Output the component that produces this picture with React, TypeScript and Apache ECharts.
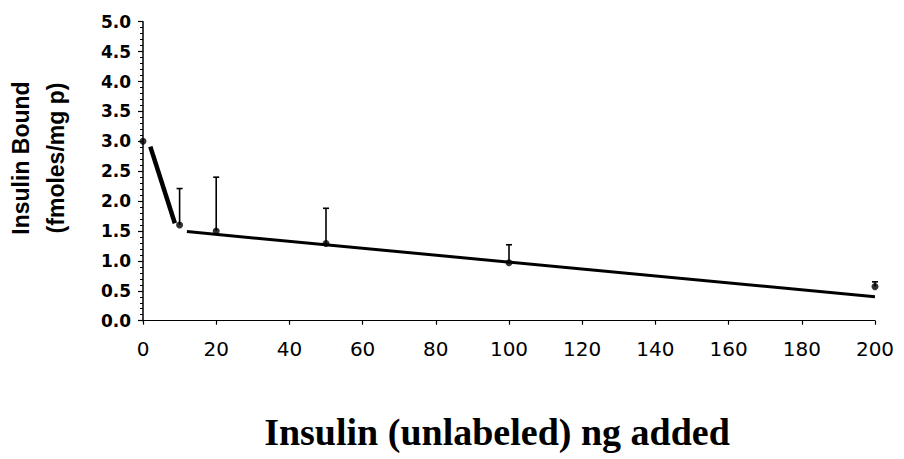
import React, { useEffect, useRef } from "react";
import * as echarts from "echarts";

// Measured points (ng unlabeled insulin added vs. insulin bound)
const doseX = [0, 10, 20, 50, 100, 200];
const boundY = [3.0, 1.6, 1.5, 1.29, 0.97, 0.57];
const errorTop = [3.0, 2.21, 2.4, 1.88, 1.27, 0.65];

// Drawn trend segments
const seg1X = [2, 8.7];
const seg1Y = [2.91, 1.63];
const seg2X = [12, 200];
const seg2Y = [1.49, 0.4];

const xTicks = [0, 20, 40, 60, 80, 100, 120, 140, 160, 180, 200];
const yTicks = [0, 0.5, 1, 1.5, 2, 2.5, 3, 3.5, 4, 4.5, 5];

export default function App() {
  const ref = useRef<HTMLDivElement>(null);
  useEffect(() => {
    document.body.style.margin = "0";
    if (!ref.current) return;
    const chart = echarts.init(ref.current, null, { renderer: "svg" });
    chart.setOption({
      animation: false,
      backgroundColor: "#ffffff",
      grid: { left: 143, right: 29, top: 21.7, bottom: 138.3, containLabel: false },
      xAxis: {
        type: "value",
        min: xTicks[0],
        max: xTicks[xTicks.length - 1],
        interval: 20,
        axisLine: { show: true, lineStyle: { color: "#000", width: 1.2 } },
        axisTick: { show: true, inside: false, length: 4, lineStyle: { color: "#000", width: 1.2 } },
        axisLabel: {
          color: "#000",
          fontSize: 20,
          fontFamily: "DejaVu Sans, sans-serif",
          margin: 18,
        },
        splitLine: { show: false },
      },
      yAxis: {
        type: "value",
        min: yTicks[0],
        max: yTicks[yTicks.length - 1],
        interval: 0.5,
        axisLine: { show: true, lineStyle: { color: "#000", width: 1.5 } },
        axisTick: { show: true, inside: false, length: 5, lineStyle: { color: "#000", width: 1.2 } },
        minorTick: { show: true, splitNumber: 5, length: 3, lineStyle: { color: "#000", width: 1 } },
        axisLabel: {
          color: "#000",
          fontSize: 17,
          fontWeight: "bold",
          fontFamily: "DejaVu Sans, sans-serif",
          margin: 12,
          formatter: (v: number) => v.toFixed(1),
        },
        splitLine: { show: false },
      },
      graphic: [
        {
          type: "text",
          x: 38,
          y: 158,
          rotation: Math.PI / 2,
          style: {
            text: "Insulin Bound\n(fmoles/mg p)",
            font: "bold 23px Liberation Sans, Arial, sans-serif",
            fill: "#000",
            textAlign: "center",
            textVerticalAlign: "middle",
            lineHeight: 35,
          },
        },
        {
          type: "text",
          x: 497,
          y: 432,
          style: {
            text: "Insulin (unlabeled) ng added",
            font: "bold 38px Liberation Serif, Times New Roman, serif",
            fill: "#000",
            textAlign: "center",
            textVerticalAlign: "middle",
          },
        },
      ],
      series: [
        {
          type: "line",
          data: seg1X.map((x, i) => [x, seg1Y[i]]),
          showSymbol: false,
          symbol: "none",
          lineStyle: { color: "#000", width: 4.5 },
        },
        {
          type: "line",
          data: seg2X.map((x, i) => [x, seg2Y[i]]),
          showSymbol: false,
          symbol: "none",
          lineStyle: { color: "#000", width: 3 },
        },
        {
          type: "custom",
          data: doseX.map((x, i) => [x, boundY[i], errorTop[i]]),
          renderItem: (params: any, api: any) => {
            const x = api.value(0);
            const lo = api.coord([x, api.value(1)]);
            const hi = api.coord([x, api.value(2)]);
            if (Math.abs(lo[1] - hi[1]) < 1) return { type: "group", children: [] };
            return {
              type: "group",
              children: [
                {
                  type: "line",
                  shape: { x1: hi[0], y1: hi[1], x2: lo[0], y2: lo[1] },
                  style: { stroke: "#000", lineWidth: 1.6 },
                },
                {
                  type: "line",
                  shape: { x1: hi[0] - 3, y1: hi[1], x2: hi[0] + 3, y2: hi[1] },
                  style: { stroke: "#000", lineWidth: 1.6 },
                },
              ],
            };
          },
          z: 3,
        },
        {
          type: "scatter",
          data: doseX.map((x, i) => [x, boundY[i]]),
          symbol: "circle",
          symbolSize: 7,
          itemStyle: { color: "#000" },
          z: 4,
        },
      ],
    });
    return () => chart.dispose();
  }, []);
  return <div ref={ref} style={{ width: 904, height: 459 }} />;
}
